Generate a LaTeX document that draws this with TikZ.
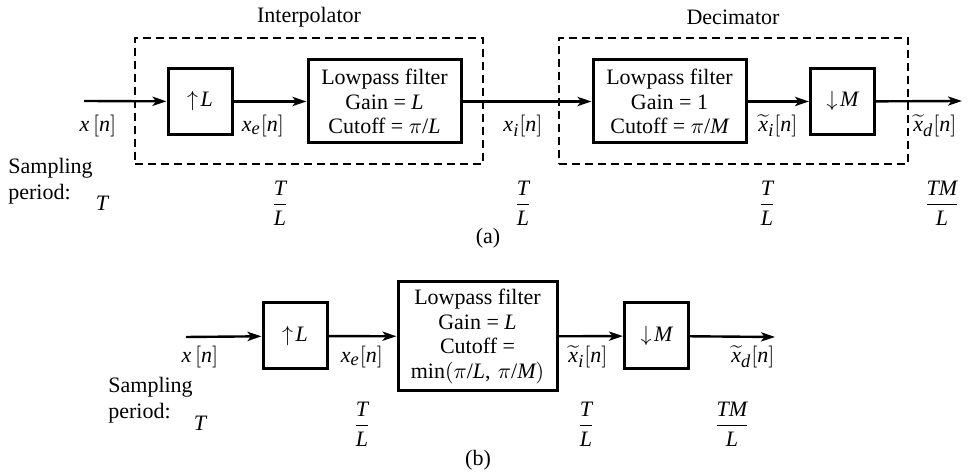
\documentclass[tikz,border=0pt]{standalone}
\usepackage{fontspec}
\setmainfont{Liberation Serif}
\usepackage[italic]{mathastext}
\usepackage{amsmath}
\usepackage{tikz}
\usetikzlibrary{arrows.meta,positioning,calc}
\tikzset{
  mrblock/.style={draw,line width=1.5pt,minimum width=32pt,minimum height=33pt,inner sep=0pt},
  mrfilt/.style={draw,line width=1.5pt,align=center,inner sep=2pt,minimum width=76.5pt,minimum height=41.5pt},
  mrgroup/.style={draw,line width=0.6pt,dash pattern=on 4pt off 2.5pt,inner sep=0pt},
  mrflow/.style={-{Stealth[length=7pt,width=4.6pt,inset=1.8pt]},line width=1.2pt},
  mrlbl/.style={inner sep=1pt},
}
\begin{document}
\begin{tikzpicture}[x=0.5pt,y=-0.5pt,font=\fontsize{11}{12.2}\selectfont]
  \useasboundingbox (0,0) rectangle (974,474);
  % (a) interpolator followed by decimator
  \coordinate (ain) at (84,101);
  \coordinate (aout) at (962,101);
  \node[mrblock] (aup) at (200,101.5) {$\uparrow\!L$};
  \node[mrfilt] (alp) at (384.5,101.5) {Lowpass filter\\Gain = $L$\\Cutoff = $\pi/L$};
  \node[mrfilt] (alpd) at (669.5,101.5) {Lowpass filter\\Gain = 1\\Cutoff = $\pi/M$};
  \node[mrblock] (adn) at (842.5,101.5) {$\downarrow\!M$};
  \node[mrgroup,minimum width=174pt,minimum height=63pt] (interp) at (309,101) {};
  \node[mrgroup,minimum width=174.5pt,minimum height=63pt] (decim) at (733.5,101) {};
  \node[mrlbl] (interpT) at (309,17) {Interpolator};
  \node[mrlbl] (decimT) at (733,17) {Decimator};

  \draw[mrflow] (ain) -- (aup);
  \draw[mrflow] (aup) -- (alp);
  \draw[mrflow] (alp) -- (alpd);
  \draw[mrflow] (alpd) -- (adn);
  \draw[mrflow] (adn) -- (aout);

  \node[mrlbl] (axn) at (98,126) {$x\,[n]$};
  \node[mrlbl] (axe) at (263,126) {$x_e[n]$};
  \node[mrlbl] (axi) at (523,126) {$x_i[n]$};
  \node[mrlbl] (axti) at (778,126) {$\widetilde{x}_i[n]$};
  \node[mrlbl] (axtd) at (935,126) {$\widetilde{x}_d[n]$};

  \node[mrlbl,align=left,anchor=west] (asamp) at (6,181) {Sampling\\[1pt]period:};
  \node[mrlbl] (aT1) at (102,203) {$T$};
  \node[mrlbl] (aT2) at (280,203) {$\dfrac{T}{L}$};
  \node[mrlbl] (aT3) at (523,203) {$\dfrac{T}{L}$};
  \node[mrlbl] (aT4) at (767,203) {$\dfrac{T}{L}$};
  \node[mrlbl] (aT5) at (942,203) {$\dfrac{TM}{L}$};
  \node[mrlbl] (acap) at (488,238) {(a)};

  % (b) merged filter
  \coordinate (bin) at (186,337);
  \coordinate (bout) at (775,337);
  \node[mrblock] (bup) at (295,336) {$\uparrow\!L$};
  \node[mrfilt,minimum width=79.5pt,minimum height=54.5pt] (blp) at (477.5,336.5)
    {Lowpass filter\\Gain = $L$\\Cutoff =\\$\min(\pi/L,\,\pi/M)$};
  \node[mrblock] (bdn) at (656.5,336) {$\downarrow\!M$};

  \draw[mrflow] (bin) -- (bup);
  \draw[mrflow] (bup) -- (blp);
  \draw[mrflow] (blp) -- (bdn);
  \draw[mrflow] (bdn) -- (bout);

  \node[mrlbl] (bxn) at (200,357) {$x\,[n]$};
  \node[mrlbl] (bxe) at (362,357) {$x_e[n]$};
  \node[mrlbl] (bxti) at (588,357) {$\widetilde{x}_i[n]$};
  \node[mrlbl] (bxtd) at (753,357) {$\widetilde{x}_d[n]$};

  \node[mrlbl,align=left,anchor=west] (bsamp) at (106,400) {Sampling\\[1pt]period:};
  \node[mrlbl] (bT1) at (200,423) {$T$};
  \node[mrlbl] (bT2) at (362,424) {$\dfrac{T}{L}$};
  \node[mrlbl] (bT3) at (586,424) {$\dfrac{T}{L}$};
  \node[mrlbl] (bT4) at (732,424) {$\dfrac{TM}{L}$};
  \node[mrlbl] (bcap) at (478,460) {(b)};
\end{tikzpicture}
\end{document}
